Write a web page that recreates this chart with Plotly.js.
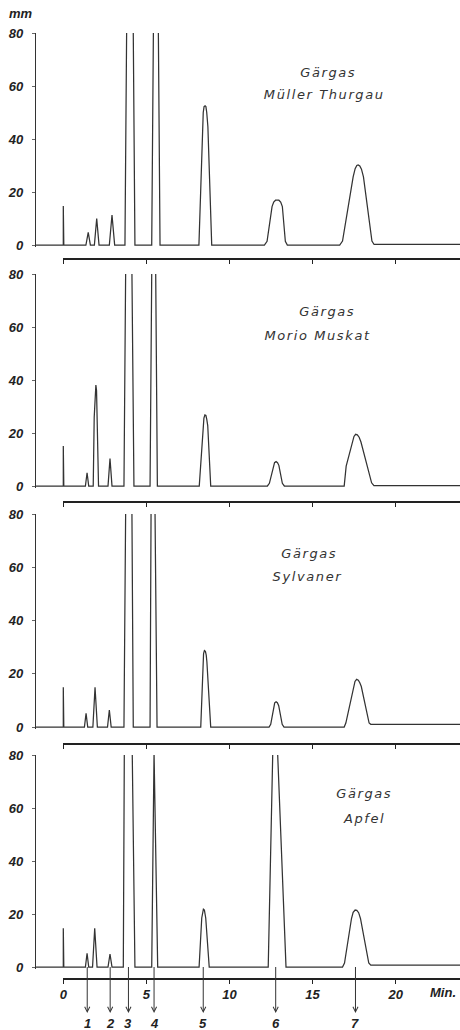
<!DOCTYPE html>
<html><head><meta charset="utf-8">
<script src="https://cdn.plot.ly/plotly-3.0.1.min.js"></script>
<style>html,body{margin:0;padding:0;background:#fff}#chart{width:460px;height:1030px}</style>
</head><body><div id="chart"></div>
<script>
// ---------- data (time in min, height in mm) ----------
const xTicks = [0, 5, 10, 15, 20];
const yTicks = [0, 20, 40, 60, 80];
const sampleNames = ["Müller Thurgau", "Morio Muskat", "Sylvaner", "Apfel"];
const gasLabel = "Gärgas";
const compoundLabels = ["1", "2", "3", "4", "5", "6", "7"];
const compoundTimes = [1.44, 2.82, 3.92, 5.46, 8.42, 12.78, 17.58];

const mullerThurgau = [
  [-1.64,0],[0,0],[0,14.7],[0.03,0],
  [1.36,0],[1.50,4.8],[1.63,0],
  [1.87,0],[2.01,10.0],[2.15,0],
  [2.77,0],[2.93,11.3],[3.09,0],
  [3.71,0],[3.81,80],[null,null],[4.21,80],[4.31,0],
  [5.32,0],[5.42,80],[null,null],[5.72,80],[5.82,0],
  [8.16,0],[8.36,44.6],[8.42,50],[8.47,52.2],[8.53,52.5],[8.58,52.2],[8.63,50],[8.70,44.6],[8.93,0],
  [12.10,0],[12.26,1.4],[12.56,14.5],[12.66,16.2],[12.77,16.9],[12.87,17.0],[12.97,16.9],[13.08,16.2],[13.18,14.5],[13.36,1.4],[13.48,0],
  [16.63,0],[16.80,1.5],[17.44,25.7],[17.56,28.8],[17.66,30.0],[17.74,30.2],[17.84,29.8],[17.94,28.6],[18.06,25.7],[18.57,1.5],[18.70,0.2],[23.9,0.2]
];
const morioMuskat = [
  [-1.64,0],[0,0],[0,15.1],[0.03,0],
  [1.33,0],[1.43,5.0],[1.53,0],
  [1.80,0],[1.86,26],[1.93,37],[1.96,38.1],[2.00,36],[2.12,0],
  [2.69,0],[2.81,10.4],[2.93,0],
  [3.65,0],[3.75,80],[null,null],[4.13,80],[4.25,0],
  [5.22,0],[5.32,80],[null,null],[5.56,80],[5.66,0],
  [8.18,0],[8.41,22.8],[8.46,25.6],[8.52,26.8],[8.58,26.6],[8.63,25.2],[8.69,22.8],[8.87,0],
  [12.28,0],[12.40,1.0],[12.64,7.8],[12.71,8.8],[12.80,9.2],[12.89,8.8],[12.97,7.8],[13.18,1.0],[13.30,0],
  [16.90,0],[17.02,7.5],[17.40,16.6],[17.49,18.7],[17.59,19.5],[17.69,19.3],[17.80,18.4],[17.91,16.6],[18.55,1.2],[18.69,0.1],[23.9,0.1]
];
const sylvaner = [
  [-1.64,0],[0,0],[0,14.9],[0.03,0],
  [1.27,0],[1.37,5.1],[1.47,0],
  [1.78,0],[1.91,14.9],[2.05,0],
  [2.66,0],[2.77,6.4],[2.88,0],
  [3.65,0],[3.75,80],[null,null],[4.13,80],[4.21,0],
  [5.22,0],[5.28,80],[null,null],[5.52,80],[5.64,0],
  [8.27,0],[8.39,24.4],[8.44,27.6],[8.49,28.7],[8.55,28.4],[8.60,27.0],[8.64,24.4],[8.87,0],
  [12.38,0],[12.48,1.0],[12.65,8.0],[12.72,9.1],[12.80,9.5],[12.88,9.1],[12.96,8.0],[13.17,1.0],[13.28,0],
  [16.90,0],[17.00,1.5],[17.46,15.2],[17.55,17.1],[17.65,17.9],[17.75,17.6],[17.84,16.6],[17.93,15.2],[18.40,1.5],[18.50,1.0],[23.9,1.0]
];
const apfel = [
  [-1.64,0],[0,0],[0,14.6],[0.03,0],
  [1.33,0],[1.43,5.2],[1.53,0],
  [1.76,0],[1.89,14.6],[2.03,0],
  [2.69,0],[2.81,4.9],[2.93,0],
  [3.61,0],[3.67,80],[null,null],[4.15,80],[4.31,0],
  [5.32,0],[5.46,81],[5.68,0],
  [8.17,0],[8.33,18.5],[8.37,20.8],[8.43,21.8],[8.49,21.5],[8.53,20.3],[8.57,18.5],[8.78,0],
  [12.33,0],[12.60,80],[null,null],[12.90,80],[13.40,0],
  [16.80,0],[16.92,1.5],[17.34,18.3],[17.44,20.6],[17.56,21.5],[17.66,21.4],[17.77,20.5],[17.88,18.3],[18.38,1.5],[18.50,0.7],[23.9,0.7]
];
const chromatograms = [mullerThurgau, morioMuskat, sylvaner, apfel];

// ---------- layout geometry ----------
const W = 460, H = 1030;
const PX_PER_MIN = 16.62, X0_PX = 63.3, AXIS_LEFT_PX = 36;
const xmin = (AXIS_LEFT_PX - X0_PX) / PX_PER_MIN;
const xmax = (W - X0_PX) / PX_PER_MIN;
const panels = [{y0:245,y80:33},{y0:486,y80:274},{y0:727,y80:514},{y0:967,y80:755}];
const sepPx = [258, 501, 743, 978];
const YMIN = -0.6;
const titlePos = [
  [[328,73],[324,94]],
  [[327,312],[318,335]],
  [[309,553],[308,576]],
  [[364,793],[364,818]]
];

const numFont = {family:'Liberation Sans, Arial, sans-serif', size:13, color:'#222', weight:'bold', style:'italic'};
const titleFont = {family:'DejaVu Sans, sans-serif', size:13, color:'#333', style:'italic'};

const traces = [];
const layout = {
  width: W, height: H, autosize: false,
  margin: {l:0, r:0, t:0, b:0, pad:0},
  paper_bgcolor: '#fff', plot_bgcolor: 'rgba(0,0,0,0)',
  showlegend: false,
  xaxis: {domain:[AXIS_LEFT_PX/W, 1], range:[xmin, xmax], visible:false, fixedrange:true},
  annotations: []
};

chromatograms.forEach((pts, i) => {
  const yk = i === 0 ? 'y' : 'y' + (i + 1);
  traces.push({
    type:'scatter', mode:'lines',
    x: pts.map(p => p[0]), y: pts.map(p => p[1]),
    xaxis:'x', yaxis: yk, connectgaps:false,
    line:{color:'#333', width:1.25}, hoverinfo:'skip'
  });
  const p = panels[i];
  const s = (p.y0 - p.y80) / 80;
  const botPx = p.y0 - YMIN * s;
  layout[i === 0 ? 'yaxis' : 'yaxis' + (i + 1)] = {
    domain:[1 - botPx/H, 1 - p.y80/H], range:[YMIN, 80], anchor:'x',
    showline:true, linecolor:'#333', linewidth:1.2,
    ticks:'outside', ticklen:3, tickwidth:1, tickcolor:'#666',
    tickvals: yTicks, ticktext: yTicks.map(String), tickfont: numFont,
    ticklabelstandoff: 6,
    showgrid:false, zeroline:false, fixedrange:true
  };
});

sepPx.forEach((py, i) => {
  const n = i + 2;
  traces.push({type:'scatter', mode:'lines', x:[null], y:[null], xaxis:'x'+n, yaxis:'y', hoverinfo:'skip'});
  layout['xaxis' + n] = {
    domain:[X0_PX/W, 1], range:[0, xmax], anchor:'free', position: 1 - py/H,
    showline:true, linecolor:'#222', linewidth:1.5,
    ticks:'outside', ticklen:4, tickwidth:1.2, tickcolor:'#222',
    tickvals: xTicks, ticktext: xTicks.map(String),
    showticklabels: i === sepPx.length - 1, tickfont: numFont,
    showgrid:false, zeroline:false, fixedrange:true
  };
});

// titles
sampleNames.forEach((name, i) => {
  const [g, n] = titlePos[i];
  layout.annotations.push({xref:'paper', yref:'paper', x:g[0]/W, y:1-g[1]/H, text:gasLabel, showarrow:false, font:titleFont, xanchor:'center', yanchor:'middle'});
  layout.annotations.push({xref:'paper', yref:'paper', x:n[0]/W, y:1-n[1]/H, text:name, showarrow:false, font:titleFont, xanchor:'center', yanchor:'middle'});
});
layout.annotations.push({xref:'paper', yref:'paper', x:21/W, y:1-13/H, text:'mm', showarrow:false, font:numFont, xanchor:'center', yanchor:'middle'});
layout.annotations.push({xref:'paper', yref:'paper', x:443/W, y:1-992/H, text:'Min.', showarrow:false, font:numFont, xanchor:'center', yanchor:'middle'});

compoundLabels.forEach((lab, i) => {
  layout.annotations.push({
    xref:'x', yref:'y4', x: compoundTimes[i], y: 0, text: lab,
    showarrow:true, ax:0, ay:56, arrowside:'start',
    startarrowhead:5, startarrowsize:1, arrowwidth:1, arrowcolor:'#333',
    standoff:0, startstandoff:1, font:numFont
  });
});

Plotly.newPlot('chart', traces, layout, {staticPlot:true, displayModeBar:false}).then(gd => {
  gd.querySelectorAll('.annotation').forEach(g => {
    const idx = +g.getAttribute('data-index');
    if (idx < 8) {
      const t = g.querySelector('.annotation-text');
      if (t) t.style.letterSpacing = '1.6px';
    }
  });
});
</script>
</body></html>
